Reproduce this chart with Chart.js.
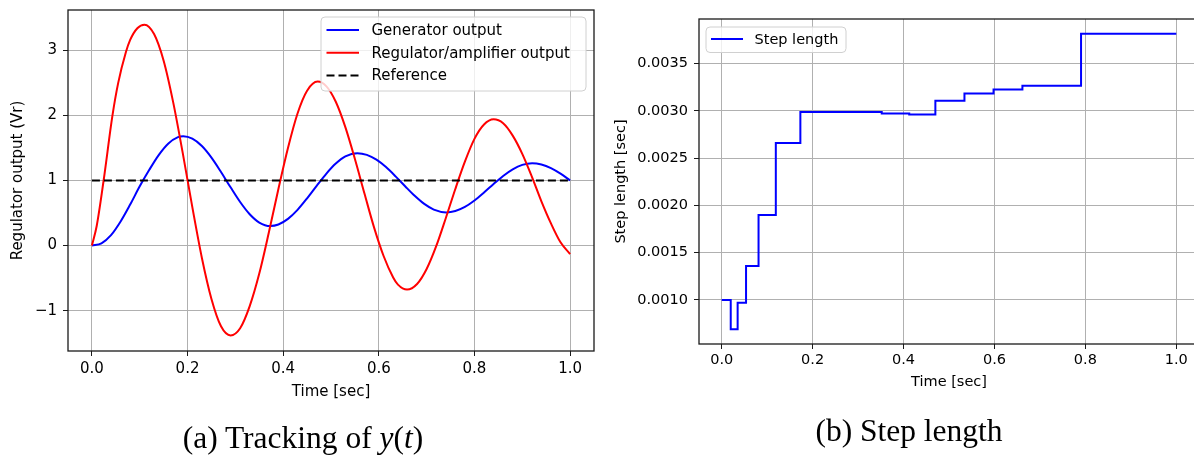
<!DOCTYPE html>
<html>
<head>
<meta charset="utf-8">
<script src="https://cdn.jsdelivr.net/npm/chart.js@4/dist/chart.umd.min.js"></script>
<style>
  html, body { margin: 0; padding: 0; background: #ffffff; }
  #wrap { position: relative; width: 1194px; height: 456px; overflow: hidden; background: #fff; }
  canvas { position: absolute; top: 0; }
  #c1 { left: 0; }
  #c2 { left: 600px; }
  .cap { position: absolute; font-family: "Liberation Serif", "DejaVu Serif", serif; font-size: 31.5px; line-height: 31.5px; white-space: nowrap; color: #000; transform: translateX(-50%); }
</style>
</head>
<body>
<div id="wrap">
  <canvas id="c1" width="600" height="456"></canvas>
  <canvas id="c2" width="610" height="456"></canvas>
  <div class="cap" style="left:303px; top:422px;">(a) Tracking of <i>y</i>(<i>t</i>)</div>
  <div class="cap" style="left:909px; top:415px;">(b) Step length</div>
</div>
<script>
// ---------- Data ----------
const blueT = [0, 0.02, 0.04, 0.06, 0.08, 0.10, 0.12, 0.14, 0.16, 0.18, 0.191, 0.21, 0.23, 0.25, 0.27, 0.29, 0.31, 0.33, 0.35, 0.373, 0.39, 0.41, 0.43, 0.45, 0.47, 0.49, 0.51, 0.53, 0.555, 0.575, 0.595, 0.615, 0.635, 0.655, 0.675, 0.695, 0.715, 0.741, 0.76, 0.78, 0.80, 0.82, 0.84, 0.86, 0.88, 0.90, 0.9206, 0.94, 0.96, 0.98, 1.0];
const generatorOutput = [0, 0.035, 0.16, 0.37, 0.63, 0.91, 1.164, 1.394, 1.569, 1.666, 1.68, 1.643, 1.53, 1.352, 1.131, 0.895, 0.669, 0.481, 0.354, 0.30, 0.324, 0.41, 0.549, 0.726, 0.918, 1.103, 1.26, 1.37, 1.42, 1.394, 1.32, 1.206, 1.064, 0.911, 0.764, 0.64, 0.553, 0.51, 0.531, 0.594, 0.693, 0.815, 0.946, 1.07, 1.172, 1.24, 1.265, 1.246, 1.191, 1.105, 1.0];

const redT = [0, 0.01, 0.0245, 0.043, 0.055, 0.071, 0.08, 0.095, 0.110, 0.13, 0.15, 0.17, 0.19, 0.21, 0.23, 0.25, 0.27, 0.29, 0.31, 0.33, 0.35, 0.37, 0.39, 0.41, 0.43, 0.45, 0.472, 0.49, 0.51, 0.53, 0.55, 0.57, 0.59, 0.61, 0.63, 0.64, 0.659, 0.68, 0.70, 0.72, 0.74, 0.76, 0.78, 0.80, 0.82, 0.84, 0.86, 0.88, 0.90, 0.92, 0.94, 0.96, 0.98, 1.0];
const regulatorOutput = [0, 0.30, 1.0, 2.0, 2.5, 2.97, 3.16, 3.34, 3.395, 3.25, 2.84, 2.20, 1.42, 0.59, -0.19, -0.82, -1.24, -1.38, -1.27, -0.93, -0.43, 0.20, 0.87, 1.50, 2.03, 2.38, 2.52, 2.45, 2.21, 1.82, 1.33, 0.80, 0.28, -0.16, -0.49, -0.60, -0.676, -0.59, -0.36, -0.01, 0.42, 0.87, 1.29, 1.64, 1.86, 1.94, 1.88, 1.69, 1.41, 1.06, 0.68, 0.34, 0.05, -0.13];

const refT = [0, 1.0];
const referenceValue = [1, 1];

const stepT = [0, 0.0198, 0.035, 0.0535, 0.081, 0.119, 0.173, 0.352, 0.4125, 0.470, 0.534, 0.598, 0.6615, 0.7905, 1.0];
const stepLength = [0.0010, 0.00069, 0.000970, 0.00136, 0.0019, 0.00266, 0.00299, 0.002973, 0.002962, 0.003109, 0.003184, 0.003228, 0.003268, 0.003817, 0.003817];

const timeTicks = [0.0, 0.2, 0.4, 0.6, 0.8, 1.0];
const leftYTicks = [-1, 0, 1, 2, 3];
const rightYTicks = [0.0010, 0.0015, 0.0020, 0.0025, 0.0030, 0.0035];

// ---------- helpers ----------
const pts = (xs, ys) => xs.map((x, i) => ({x: x, y: ys[i]}));
const FONT = "'DejaVu Sans', sans-serif";

const framePlugin = {
  id: 'frame',
  afterDatasetsDraw(chart) {
    const a = chart.chartArea, ctx = chart.ctx;
    ctx.save();
    ctx.strokeStyle = '#1a1a1a';
    ctx.lineWidth = 1.3;
    ctx.strokeRect(a.left, a.top, a.right - a.left, a.bottom - a.top);
    ctx.restore();
  }
};

const boxLegendPlugin = {
  id: 'boxLegend',
  afterDraw(chart, args, opts) {
    if (!opts || !opts.display) return;
    const a = chart.chartArea, ctx = chart.ctx;
    const x = opts.anchor === 'right' ? a.right - opts.dx - opts.w : a.left + opts.dx;
    const y = a.top + opts.dy;
    ctx.save();
    ctx.beginPath();
    const r = 4, w = opts.w, h = opts.h;
    ctx.moveTo(x + r, y);
    ctx.arcTo(x + w, y, x + w, y + h, r);
    ctx.arcTo(x + w, y + h, x, y + h, r);
    ctx.arcTo(x, y + h, x, y, r);
    ctx.arcTo(x, y, x + w, y, r);
    ctx.closePath();
    ctx.fillStyle = 'rgba(255,255,255,0.8)';
    ctx.fill();
    ctx.strokeStyle = '#d0d0d0';
    ctx.lineWidth = 1;
    ctx.stroke();
    ctx.font = opts.fontSize + 'px ' + FONT;
    ctx.textBaseline = 'middle';
    ctx.fillStyle = '#000';
    const ds = opts.order.map(i => chart.data.datasets[i]);
    ds.forEach((d, i) => {
      const ry = y + opts.firstRow + i * opts.rowGap;
      ctx.beginPath();
      ctx.setLineDash(d.borderDash || []);
      ctx.strokeStyle = d.borderColor;
      ctx.lineWidth = d.borderWidth;
      ctx.moveTo(x + opts.s0, ry);
      ctx.lineTo(x + opts.s1, ry);
      ctx.stroke();
      ctx.setLineDash([]);
      ctx.fillText(d.label, x + opts.tx, ry + 1);
    });
    ctx.restore();
  }
};

function axisCommon(extra) {
  return Object.assign({
    type: 'linear',
    grid: { color: '#b0b0b0', lineWidth: 1, tickColor: '#1a1a1a', tickLength: 5, drawTicks: true },
    border: { display: false },
  }, extra);
}
const fitX = h => s => { s.height = h; s.paddingLeft = 0; s.paddingRight = 0; };
const fitY = w => s => { s.width = w; s.paddingTop = 0; s.paddingBottom = 0; };

// ---------- Left chart ----------
new Chart(document.getElementById('c1'), {
  type: 'line',
  data: {
    datasets: [
      { label: 'Generator output', data: pts(blueT, generatorOutput), borderColor: '#0000ff', borderWidth: 2, pointRadius: 0, cubicInterpolationMode: 'monotone', fill: false, order: 3 },
      { label: 'Regulator/amplifier output', data: pts(redT, regulatorOutput), borderColor: '#ff0000', borderWidth: 2, pointRadius: 0, cubicInterpolationMode: 'monotone', fill: false, order: 2 },
      { label: 'Reference', data: pts(refT, referenceValue), borderColor: '#000000', borderWidth: 2, borderDash: [8, 4], pointRadius: 0, fill: false, order: 1 }
    ]
  },
  options: {
    responsive: false, animation: false, devicePixelRatio: 1,
    layout: { padding: { left: 0, right: 6, top: 10, bottom: 0 } },
    plugins: {
      legend: { display: false }, tooltip: { enabled: false },
      boxLegend: { display: true, anchor: 'right', dx: 8, dy: 7, w: 265, h: 74, s0: 5.5, s1: 38, tx: 50.5, firstRow: 13, rowGap: 22.8, fontSize: 15, order: [0, 1, 2] }
    },
    scales: {
      x: axisCommon({
        position: 'bottom', min: -0.05, max: 1.05,
        afterBuildTicks: s => { s.ticks = timeTicks.map(v => ({value: v})); },
        afterFit: fitX(105),
        ticks: { font: { family: FONT, size: 15 }, color: '#000', padding: 4, maxRotation: 0, autoSkip: false, callback: v => Number(v).toFixed(1) },
        title: { display: true, text: 'Time [sec]', font: { family: FONT, size: 15 }, color: '#000', padding: { top: 0, bottom: 55 } }
      }),
      y: axisCommon({
        position: 'left', min: -1.62, max: 3.62,
        afterBuildTicks: s => { s.ticks = leftYTicks.map(v => ({value: v})); },
        afterFit: fitY(68),
        ticks: { font: { family: FONT, size: 15 }, color: '#000', padding: 6, autoSkip: false, callback: v => (v < 0 ? '\u2212' + Math.abs(v) : String(v)) },
        title: { display: true, text: 'Regulator output (Vr)', font: { family: FONT, size: 15 }, color: '#000', padding: { top: 9, bottom: 0 } }
      })
    }
  },
  plugins: [framePlugin, boxLegendPlugin]
});

// ---------- Right chart ----------
new Chart(document.getElementById('c2'), {
  type: 'line',
  data: {
    datasets: [
      { label: 'Step length', data: pts(stepT, stepLength), borderColor: '#0000ff', borderWidth: 2, pointRadius: 0, stepped: true, fill: false }
    ]
  },
  options: {
    responsive: false, animation: false, devicePixelRatio: 1,
    layout: { padding: { left: 0, right: 11, top: 19, bottom: 0 } },
    plugins: {
      legend: { display: false }, tooltip: { enabled: false },
      boxLegend: { display: true, anchor: 'left', dx: 7, dy: 8, w: 140, h: 25.5, s0: 5, s1: 37, tx: 48.5, firstRow: 12, rowGap: 22, fontSize: 14.5, order: [0] }
    },
    scales: {
      x: axisCommon({
        position: 'bottom', min: -0.05, max: 1.05,
        afterBuildTicks: s => { s.ticks = timeTicks.map(v => ({value: v})); },
        afterFit: fitX(112),
        ticks: { font: { family: FONT, size: 14.5 }, color: '#000', padding: 3, maxRotation: 0, autoSkip: false, callback: v => Number(v).toFixed(1) },
        title: { display: true, text: 'Time [sec]', font: { family: FONT, size: 14.5 }, color: '#000', padding: { top: 0, bottom: 65 } }
      }),
      y: axisCommon({
        position: 'left', min: 0.000534, max: 0.003973,
        afterBuildTicks: s => { s.ticks = rightYTicks.map(v => ({value: v})); },
        afterFit: fitY(99),
        ticks: { font: { family: FONT, size: 14.5 }, color: '#000', padding: 6, autoSkip: false, callback: v => Number(v).toFixed(4) },
        title: { display: true, text: 'Step length [sec]', font: { family: FONT, size: 14.5 }, color: '#000', padding: { top: 12.9, bottom: 0 } }
      })
    }
  },
  plugins: [framePlugin, boxLegendPlugin]
});
</script>
</body>
</html>
